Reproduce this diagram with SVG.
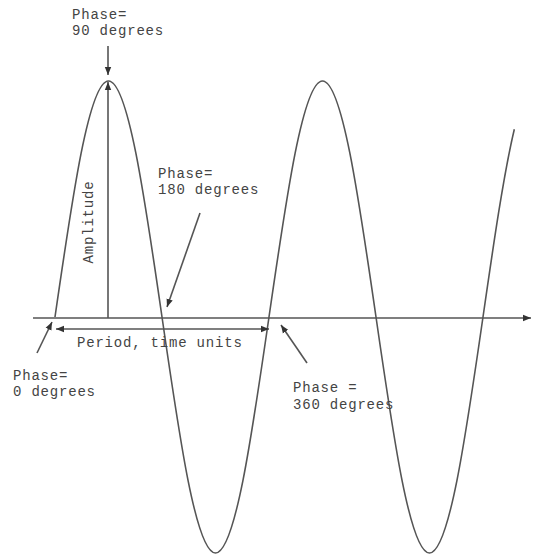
<svg xmlns="http://www.w3.org/2000/svg" width="533" height="555" viewBox="0 0 533 555">
<defs>
<marker id="ah" viewBox="0 0 10 10" refX="10" refY="5" markerWidth="8" markerHeight="8" markerUnits="userSpaceOnUse" orient="auto-start-reverse">
<path d="M0,1 L10,5 L0,9 Z" fill="#333"/>
</marker>
<style>
.ln{stroke:#555;stroke-width:1.6;fill:none}
.ar{stroke:#555;stroke-width:1.6;fill:none;marker-end:url(#ah)}
.tx{font-family:"Liberation Mono","DejaVu Sans Mono",monospace;font-size:14px;letter-spacing:0.8px;fill:#444}
</style>
</defs>
<rect width="533" height="555" fill="#fff"/>
<g id="wave">
<path class="ln" d="M55,317 C72.45,196.1 89.14,81 108.5,81 C127.86,81 144.55,196.1 162,317 C179.45,437.9 196.14,553 215.5,553 C234.86,553 251.55,437.9 269,317 C286.45,196.1 303.14,81 322.5,81 C341.86,81 358.55,196.1 376,317 C393.45,437.9 410.14,553 429.5,553 C448.86,553 465.55,437.9 483,317 C493.47,244.46 503.66,174.01 514.33,129.26"/>
</g>
<g id="connectors">
<line id="axis" class="ar" x1="33" y1="318" x2="531" y2="318"/>
<line id="amplitude-line" class="ar" x1="108" y1="318" x2="108" y2="82"/>
<line id="period-arrow" class="ar" x1="56" y1="329" x2="269" y2="329" style="marker-start:url(#ah)"/>
<line id="phase90-arrow" class="ar" x1="108" y1="46" x2="108" y2="75"/>
<line id="phase180-arrow" class="ar" x1="200" y1="213" x2="167" y2="307"/>
<line id="phase0-arrow" class="ar" x1="37" y1="353" x2="52" y2="322"/>
<line id="phase360-arrow" class="ar" x1="307" y1="363" x2="281" y2="325"/>
</g>
<g id="label-phase90">
<text class="tx" x="72" y="19">Phase=</text>
<text class="tx" x="72" y="35">90 degrees</text>
</g>
<g id="label-phase180">
<text class="tx" x="158" y="178">Phase=</text>
<text class="tx" x="158" y="194">180 degrees</text>
</g>
<g id="label-amplitude">
<text class="tx" transform="translate(93,222) rotate(-90)" text-anchor="middle">Amplitude</text>
</g>
<g id="label-period">
<text class="tx" x="77" y="347">Period, time units</text>
</g>
<g id="label-phase0">
<text class="tx" x="13" y="380">Phase=</text>
<text class="tx" x="13" y="396">0 degrees</text>
</g>
<g id="label-phase360">
<text class="tx" x="293" y="392">Phase =</text>
<text class="tx" x="293" y="409">360 degrees</text>
</g>
</svg>
